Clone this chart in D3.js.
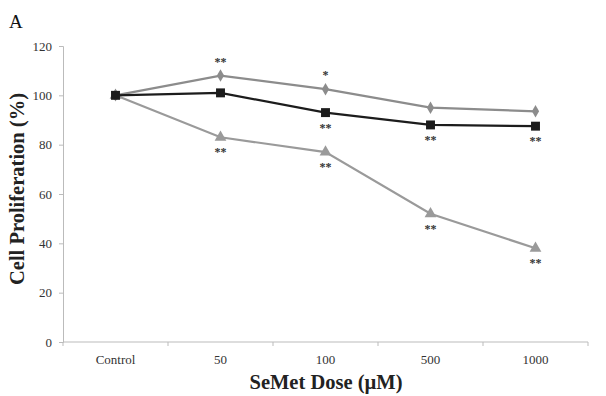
<!DOCTYPE html>
<html>
<head>
<meta charset="utf-8">
<script src="https://cdn.jsdelivr.net/npm/d3@7"></script>
<style>
  body { margin: 0; background: #fff; }
  svg text { font-family: "Liberation Serif", "Times New Roman", serif; }
</style>
</head>
<body>
<div id="chart"></div>
<script>
// data
const doses = ["Control", "50", "100", "500", "1000"];
const diamondVals = [100, 108, 102.5, 95, 93.5];
const squareVals = [100, 101, 93, 88, 87.5];
const triangleVals = [100, 83, 77, 52, 38];
const yTicks = [0, 20, 40, 60, 80, 100, 120];
// significance marks: [series, index, label, side]
const sigMarks = [
  ["diamond", 1, "**", "above"], ["diamond", 2, "*", "above"],
  ["square", 2, "**", "below"], ["square", 3, "**", "below"], ["square", 4, "**", "below"],
  ["triangle", 1, "**", "below"], ["triangle", 2, "**", "below"],
  ["triangle", 3, "**", "below"], ["triangle", 4, "**", "below"]
];

const width = 606, height = 396;
const plotL = 63, plotR = 588, plotT = 46, plotB = 342;

const svg = d3.select("#chart").append("svg")
  .attr("width", width)
  .attr("height", height);

// scales
const xScale = d3.scaleBand().domain(doses).range([plotL, plotR]);
const yScale = d3.scaleLinear().domain([0, 120]).range([plotB, plotT]);
const xc = d => xScale(d) + xScale.bandwidth() / 2;

// panel letter
svg.append("text").text("A")
  .attr("x", 9).attr("y", 28)
  .attr("font-size", 19).attr("fill", "#111");

// y axis
const yAxis = svg.append("g")
  .attr("transform", "translate(" + plotL + ",0)")
  .call(d3.axisLeft(yScale).tickValues(yTicks).tickSize(4).tickPadding(7));
yAxis.select(".domain").attr("stroke", "#bbb");
yAxis.selectAll(".tick line").attr("stroke", "#bbb");
yAxis.selectAll(".tick text").attr("font-size", 13).attr("fill", "#333")
  .attr("font-family", "Liberation Serif, serif");

// x axis, ticks on category boundaries
const xAxis = svg.append("g")
  .attr("transform", "translate(0," + plotB + ")");
xAxis.append("line")
  .attr("x1", plotL).attr("x2", plotR)
  .attr("stroke", "#bbb");
xAxis.selectAll("line.tk")
  .data(doses.concat(["end"]))
  .enter().append("line")
  .attr("class", "tk")
  .attr("x1", (d, i) => plotL + i * xScale.bandwidth())
  .attr("x2", (d, i) => plotL + i * xScale.bandwidth())
  .attr("y1", 0).attr("y2", 4)
  .attr("stroke", "#bbb");
xAxis.selectAll("text")
  .data(doses)
  .enter().append("text")
  .attr("x", d => xc(d))
  .attr("y", 22)
  .attr("text-anchor", "middle")
  .attr("font-size", 13)
  .attr("fill", "#333")
  .text(d => d);

// axis titles
svg.append("text")
  .text("Cell  Proliferation (%)")
  .attr("transform", "translate(24,189) rotate(-90)")
  .attr("text-anchor", "middle")
  .attr("font-size", 20.5).attr("font-weight", "bold").attr("fill", "#222");

svg.append("text")
  .text("SeMet Dose (\u00b5M)")
  .attr("x", 326).attr("y", 389)
  .attr("text-anchor", "middle")
  .attr("font-size", 20.5).attr("font-weight", "bold").attr("fill", "#222");

const series = [
  { name: "triangle", vals: triangleVals, color: "#9a9a9a", symbol: d3.symbolTriangle, size: 60 },
  { name: "diamond", vals: diamondVals, color: "#8c8c8c", symbol: d3.symbolDiamond, size: 45 },
  { name: "square", vals: squareVals, color: "#1c1c1c", symbol: d3.symbolSquare, size: 80 }
];

const line = d3.line()
  .x((d, i) => xc(doses[i]))
  .y(d => yScale(d));

series.forEach(s => {
  svg.append("path")
    .datum(s.vals)
    .attr("fill", "none")
    .attr("stroke", s.color)
    .attr("stroke-width", 2.2)
    .attr("d", line);
});

series.forEach(s => {
  svg.selectAll("path.pt-" + s.name)
    .data(s.vals)
    .enter().append("path")
    .attr("class", "pt-" + s.name)
    .attr("transform", (d, i) => "translate(" + xc(doses[i]) + "," + yScale(d) + ")")
    .attr("d", d3.symbol().type(s.symbol).size(s.size))
    .attr("fill", s.color);
});

// asterisks
const byName = {};
series.forEach(s => { byName[s.name] = s; });
svg.selectAll("text.sig")
  .data(sigMarks)
  .enter().append("text")
  .attr("class", "sig")
  .attr("x", d => xc(doses[d[1]]))
  .attr("y", d => yScale(byName[d[0]].vals[d[1]]) + (d[3] === "above" ? -10 : 19))
  .attr("text-anchor", "middle")
  .attr("font-size", 12)
  .attr("font-weight", "bold")
  .attr("fill", "#333")
  .text(d => d[2]);
</script>
</body>
</html>
